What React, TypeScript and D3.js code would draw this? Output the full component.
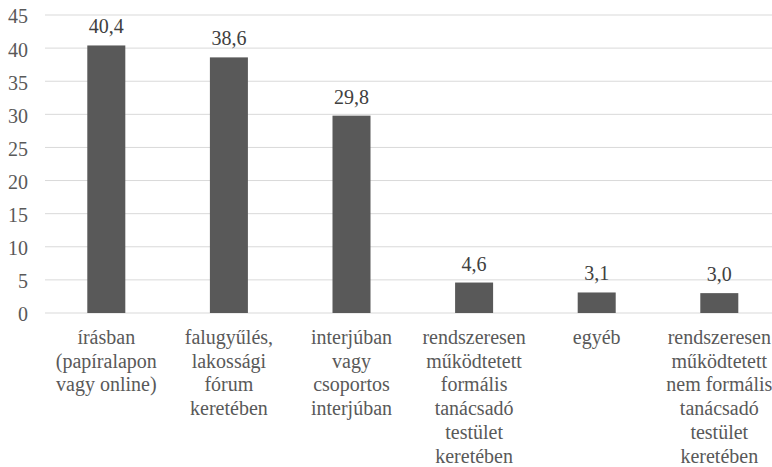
import React from "react";
import * as d3 from "d3";

const categories: string[][] = [
  ["írásban", "(papíralapon", "vagy online)"],
  ["falugyűlés,", "lakossági", "fórum", "keretében"],
  ["interjúban", "vagy", "csoportos", "interjúban"],
  ["rendszeresen", "működtetett", "formális", "tanácsadó", "testület", "keretében"],
  ["egyéb"],
  ["rendszeresen", "működtetett", "nem formális", "tanácsadó", "testület", "keretében"],
];
const values = [40.4, 38.6, 29.8, 4.6, 3.1, 3.0];
const valueLabels = ["40,4", "38,6", "29,8", "4,6", "3,1", "3,0"];
const yTicks = [0, 5, 10, 15, 20, 25, 30, 35, 40, 45];

export default function App() {
  const W = 772, H = 467;
  const left = 45, top = 15, bottom = 313;
  const step = 122.6;
  const x = d3.scaleBand<number>().domain(d3.range(6)).range([left, left + step * 6]).paddingInner(0.69).paddingOuter(0.345);
  const y = d3.scaleLinear().domain([0, 45]).range([bottom, top]);
  const font = "Liberation Serif";
  const fs = 20;
  return (
    <svg width={W} height={H} style={{ position: "absolute", left: 0, top: 0 }}>
      {yTicks.map((t) => (
        <g key={t}>
          <line x1={left} x2={W} y1={y(t)} y2={y(t)} stroke="#d9d9d9" strokeWidth={1} />
          <text x={28} y={y(t)} dy="0.42em" textAnchor="end" fontSize={fs} fill="#595959" style={{ fontFamily: font }}>{t}</text>
        </g>
      ))}
      {values.map((v, i) => (
        <g key={i}>
          <rect x={x(i)} y={y(v)} width={x.bandwidth()} height={y(0) - y(v)} fill="#595959" />
          <text x={(x(i) as number) + x.bandwidth() / 2} y={y(v) - 12} textAnchor="middle" fontSize={fs} fill="#404040" style={{ fontFamily: font }}>{valueLabels[i]}</text>
          {categories[i].map((l, j) => (
            <text key={j} x={(x(i) as number) + x.bandwidth() / 2} y={344 + j * 23.7} textAnchor="middle" fontSize={fs} fill="#595959" style={{ fontFamily: font }}>{l}</text>
          ))}
        </g>
      ))}
    </svg>
  );
}
